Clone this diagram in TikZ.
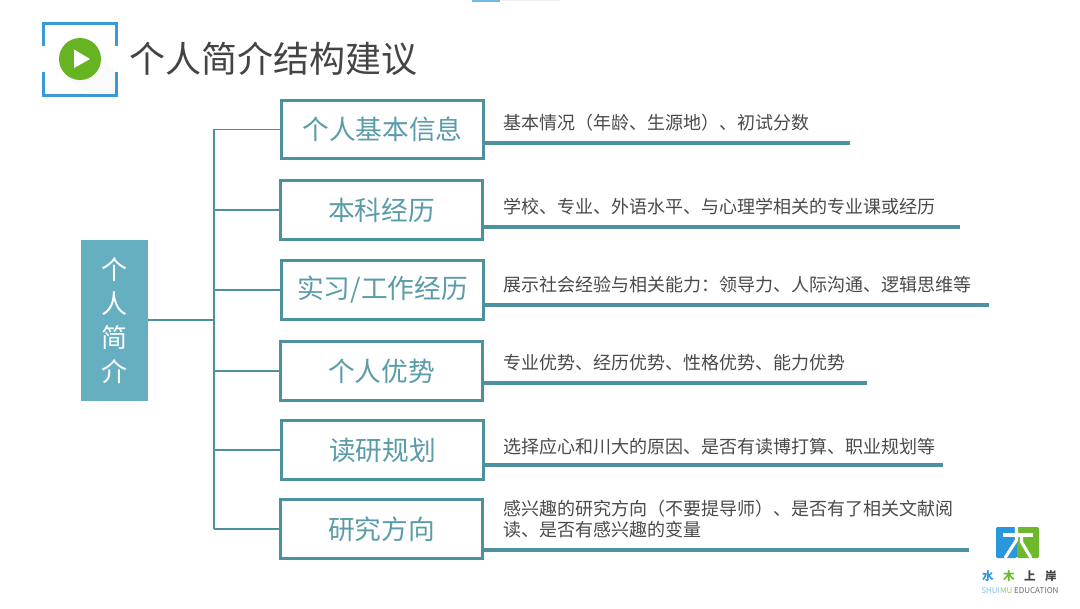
\documentclass[tikz,border=0pt]{standalone}
\usepackage{fontspec}
\setmainfont{Noto Sans CJK SC}
\usetikzlibrary{arrows.meta,positioning,calc,fit,shapes.geometric}
\definecolor{tealbar}{HTML}{4E919E}
\definecolor{tealtext}{HTML}{5A9CA8}
\definecolor{rootfill}{HTML}{66AFC0}
\definecolor{ink}{HTML}{444444}
\definecolor{descink}{HTML}{4A4A4A}
\definecolor{framec}{HTML}{3A9AD4}
\definecolor{playc}{HTML}{66B422}
\definecolor{logoblue}{HTML}{2A97DC}
\definecolor{logogreen}{HTML}{6CB92B}
\tikzset{
  topicbox/.style={draw=tealbar, fill=white, line width=2.2pt, minimum width=5.07cm,
                   minimum height=1.46cm, inner sep=0pt, text=tealtext, font=\fontsize{19}{22}\selectfont},
  rootbox/.style={fill=rootfill, text=white, minimum width=1.68cm, minimum height=4.02cm,
                  inner sep=0pt, align=center, font=\fontsize{18.5}{23}\selectfont},
  desc/.style={anchor=west, inner sep=0pt, text=descink, align=left, font=\fontsize{12.8}{15.2}\selectfont},
  branch/.style={draw=tealbar, line width=1.2pt},
  rule/.style={draw=tealbar, line width=2.2pt},
  framebar/.style={draw=framec, line width=1.45pt},
  logochar/.style={inner sep=0pt, font=\fontsize{8.2}{9}\selectfont\bfseries}
}
\begin{document}
\begin{tikzpicture}[x=0.025cm,y=-0.025cm]
  \useasboundingbox (0,0) rectangle (1080,608);
  \fill[white] (0,0) rectangle (1080,608);

  % sliver at the top edge
  \fill[black!6] (500,0) rectangle (560,1);
  \fill[framec!70] (472,0) rectangle (500,1.5);

  % title icon
  \fill[black!2] (92,50) -- (116,72) -- (116,95) -- (90,95) -- (66,78) -- cycle;
  \draw[framebar] (43.5,46) -- (43.5,23.5) -- (116.5,23.5) -- (116.5,46);
  \draw[framebar] (43.5,72) -- (43.5,95.5) -- (116.5,95.5) -- (116.5,72);
  \node[circle,fill=playc,minimum size=1.05cm,inner sep=0pt] (playbtn) at (80,59) {};
  \fill[white] (74,49.5) -- (90,59) -- (74,68) -- cycle;
  \node[anchor=west,inner sep=0pt,text=ink,font=\fontsize{25.6}{30}\selectfont] (title) at (129,59) {个人简介结构建议};

  % root and trunk
  \node[rootbox] (root) at (114.5,320.5) {个\\[1pt]人\\[1pt]简\\[1pt]介};
  \coordinate (trunktop) at (214,129);
  \coordinate (trunkbot) at (214,529);
  \coordinate (trunkmid) at (214,320);
  \draw[branch] (trunktop) -- (trunkbot);
  \draw[branch] (root.east |- trunkmid) -- (trunkmid);

  % topics, branch from the trunk, rule under the text
  \foreach \name/\cx/\cy/\ry/\rx/\lab in {
    basic/382.5/129.5/143/850/{个人基本信息},
    study/381.5/210/227/960/{本科经历},
    work/382.5/290/305/989/{实习/工作经历},
    merit/381.5/371/383/867/{个人优势},
    plan/382.5/450/465/943/{读研规划},
    field/381.5/529/550/969/{研究方向}} {
    \coordinate (\name end) at (\rx,\ry);
    \node[topicbox] (\name) at (\cx,\cy) {\lab};
    \draw[branch] (trunktop |- \name.west) -- (\name.west);
    \draw[rule] (\name.east |- \name end) -- (\name end);
  }

  % descriptions
  \node[desc] (basicdesc) at (503,122.5) {基本情况（年龄、生源地）、初试分数};
  \node[desc] (studydesc) at (503,206.5) {学校、专业、外语水平、与心理学相关的专业课或经历};
  \node[desc] (workdesc) at (503,284.5) {展示社会经验与相关能力：领导力、人际沟通、逻辑思维等};
  \node[desc] (meritdesc) at (503,362.5) {专业优势、经历优势、性格优势、能力优势};
  \node[desc] (plandesc) at (503,446.5) {选择应心和川大的原因、是否有读博打算、职业规划等};
  \node[desc] (fielddesc) at (503,519) {感兴趣的研究方向（不要提导师）、是否有了相关文献阅\\读、是否有感兴趣的变量};

  % logo
  \fill[logoblue,rounded corners=1pt] (996,527) rectangle (1017,558);
  \fill[logogreen,rounded corners=1pt] (1017,527) rectangle (1039,558);
  \draw[white,line width=2.2pt] (1003,535) -- (1033,535);
  \draw[white,line width=2.2pt] (1016.5,527) -- (1016.5,540) -- (1005,558);
  \draw[white,line width=2.2pt] (1021.5,535) -- (1021.5,542) -- (1031,558);
  \node[logochar] (logoa) at (988,576) {\textcolor{logoblue}{水}};
  \node[logochar] (logob) at (1009,576) {\textcolor{logogreen}{木}};
  \node[logochar,text=ink] (logoc) at (1030,576) {上};
  \node[logochar,text=ink] (logod) at (1051,576) {岸};
  \node[anchor=west,inner sep=0pt,font=\fontsize{5.7}{6}\selectfont,text=ink!80] (logoe) at (981,591) {\textcolor{logoblue!60}{SHUI}\textcolor{logogreen!70}{MU} EDUCATION};
\end{tikzpicture}
\end{document}
